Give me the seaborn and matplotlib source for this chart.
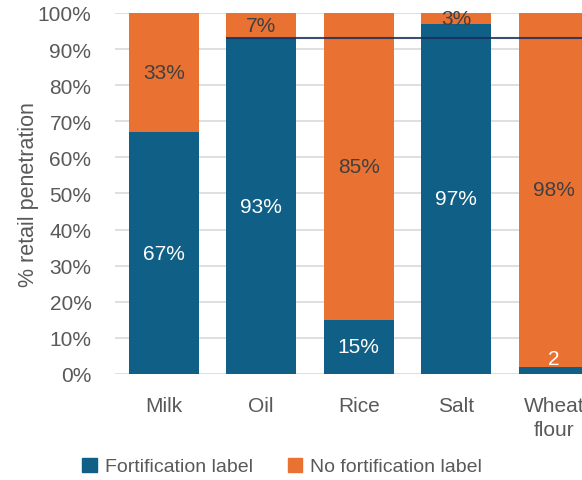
import matplotlib
matplotlib.use("Agg")
import matplotlib.pyplot as plt
import matplotlib.patches as mpatches
import numpy as np
import pandas as pd
import seaborn as sns

# data
categories = ["Milk", "Oil", "Rice", "Salt", "Wheat\nflour"]
fortified = [67, 93, 15, 97, 2]
not_fortified = [33, 7, 85, 3, 98]
fort_labels = ["67%", "93%", "15%", "97%", "2"]
nofort_labels = ["33%", "7%", "85%", "3%", "98%"]
ref_line = 93  # horizontal reference line at the oil share

blue = "#0F5F86"
orange = "#E97132"
grey = "#595959"

sns.set_theme(style="white")
plt.rcParams["font.family"] = ["Liberation Sans", "DejaVu Sans"]

df = pd.DataFrame({
    "category": categories,
    "fortified": fortified,
    "total": np.array(fortified) + np.array(not_fortified),
})

fig = plt.figure(figsize=(5.82, 4.81), dpi=100)
ax = fig.add_axes([0.1976, 0.2204, 0.8376, 0.7505])

bw = 0.72
sns.barplot(data=df, x="category", y="total", color=orange, width=bw,
            saturation=1, linewidth=0, ax=ax, zorder=2)
sns.barplot(data=df, x="category", y="fortified", color=blue, width=bw,
            saturation=1, linewidth=0, ax=ax, zorder=3)

ax.set_xlim(-0.5, 4.5)
ax.set_ylim(0, 100)
ax.set_yticks(np.arange(0, 101, 10))
ax.set_yticklabels([f"{v}%" for v in range(0, 101, 10)])
ax.grid(axis="y", color="#D9D9D9", linewidth=1.2, zorder=0)
ax.set_axisbelow(True)
for s in ax.spines.values():
    s.set_visible(False)

ax.tick_params(axis="y", length=0, pad=17, labelsize=15, labelcolor=grey)
ax.tick_params(axis="x", length=0, pad=16, labelsize=15, labelcolor=grey)
for t in ax.get_xticklabels():
    t.set_linespacing(1.35)
ax.set_xlabel("")
ax.set_ylabel("% retail penetration", fontsize=15.5, color=grey, labelpad=-1)

# data labels
for i in range(len(categories)):
    ax.text(i, max(fortified[i] / 2, 4.2), fort_labels[i], ha="center",
            va="center", color="white", fontsize=15, zorder=5)
    ax.text(i, fortified[i] + not_fortified[i] / 2, nofort_labels[i],
            ha="center", va="center", color="#404040", fontsize=15, zorder=5)

# reference line starting at the oil bar
ax.hlines(ref_line, 1 - bw / 2, 4.6, color="#1A2F5E", linewidth=1.5,
          alpha=0.85, zorder=4)

handles = [mpatches.Patch(color=blue, label="Fortification label"),
           mpatches.Patch(color=orange, label="No fortification label")]
fig.legend(handles=handles, loc="center", bbox_to_anchor=(0.485, 0.028),
           ncol=2, frameon=False, fontsize=14, handlelength=0.75,
           handleheight=0.75, handletextpad=0.4, columnspacing=1.8,
           labelcolor=grey)

fig.savefig("out.png", dpi=100)
